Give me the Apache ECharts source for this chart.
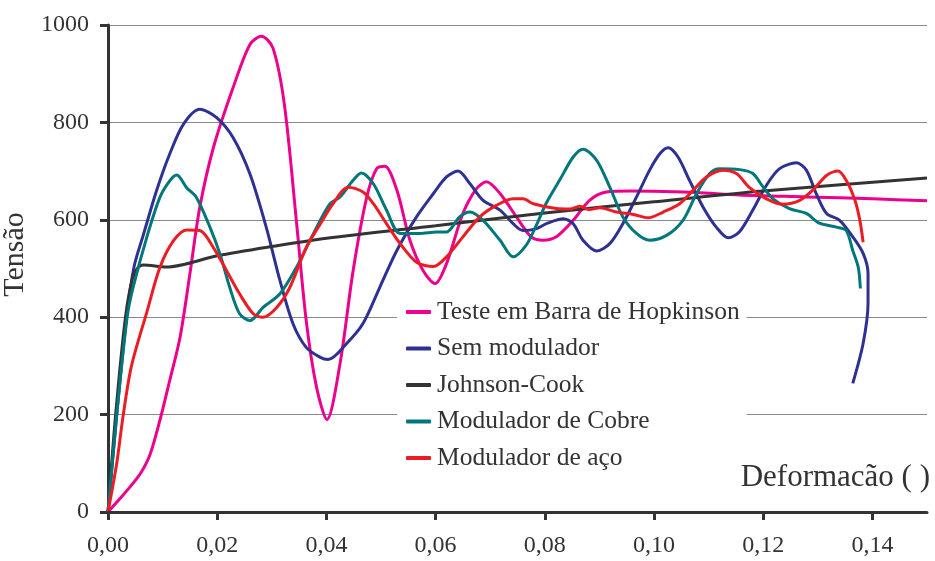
<!DOCTYPE html>
<html>
<head>
<meta charset="utf-8">
<script src="https://cdn.jsdelivr.net/npm/echarts@6/dist/echarts.min.js"></script>
<style>html,body{margin:0;padding:0;background:#fff}#c{width:935px;height:561px}</style>
</head>
<body>
<div id="c"></div>
<script>
const seriesNames = ['Teste em Barra de Hopkinson','Sem modulador','Johnson-Cook','Modulador de Cobre','Modulador de aço'];
const xTicks = [0,0.02,0.04,0.06,0.08,0.10,0.12,0.14];
const yTicks = [0,200,400,600,800,1000];

const hopkinson = [[0,0],[0.002,25],[0.004,51],[0.006,80],[0.0077,118],[0.0095,188],[0.0113,270],[0.0132,359],[0.015,489],[0.0168,625],[0.0193,748],[0.0229,871],[0.026,960],[0.0281,977],[0.0302,953],[0.0323,837],[0.0345,598],[0.0363,393],[0.0382,256],[0.0401,190],[0.0425,305],[0.0449,496],[0.0474,647],[0.0492,705],[0.0507,710],[0.0529,661],[0.0553,558],[0.0577,496],[0.0599,469],[0.062,510],[0.065,613],[0.0675,664],[0.0693,678],[0.0718,654],[0.0748,606],[0.0775,565],[0.0797,558],[0.0821,565],[0.0852,599],[0.0882,640],[0.0913,657],[0.0956,659],[0.1017,658],[0.1078,656],[0.1157,651],[0.1279,647],[0.1401,643],[0.15,639]];

const semModulador = [[0,0],[0.0016,200],[0.0034,400],[0.0048,505],[0.0065,570],[0.0089,660],[0.0113,735],[0.0138,796],[0.0168,827],[0.0199,810],[0.0229,769],[0.026,694],[0.029,584],[0.0315,475],[0.0339,386],[0.0363,338],[0.0388,318],[0.0403,313],[0.0437,346],[0.0467,387],[0.0498,462],[0.0529,537],[0.0565,606],[0.0596,654],[0.062,688],[0.0641,700],[0.0663,674],[0.0687,640],[0.0718,620],[0.0742,592],[0.076,578],[0.0785,582],[0.0803,592],[0.0834,602],[0.0852,592],[0.087,558],[0.0895,536],[0.0919,551],[0.0943,592],[0.0968,647],[0.0992,702],[0.1011,736],[0.1026,748],[0.1044,729],[0.1065,681],[0.109,626],[0.1114,585],[0.1136,563],[0.1157,576],[0.1181,620],[0.1206,671],[0.123,705],[0.1261,717],[0.1279,702],[0.1297,654],[0.1316,613],[0.134,599],[0.1364,565],[0.1383,531],[0.1392,490],[0.1392,428],[0.1383,346],[0.1364,264]];

const johnsonCook = [[0,0],[0.0014,200],[0.0032,400],[0.0045,480],[0.0055,502],[0.0065,507],[0.0107,503],[0.02,526],[0.03,545],[0.04,562],[0.06,588],[0.08,614],[0.10,637],[0.12,659],[0.15,686]];

const moduladorCobre = [[0,0],[0.0016,200],[0.0035,400],[0.0046,461],[0.0071,564],[0.0095,646],[0.0113,680],[0.0126,692],[0.0144,666],[0.0162,646],[0.0187,584],[0.0205,530],[0.0223,461],[0.0241,407],[0.026,393],[0.0284,420],[0.0315,448],[0.0345,502],[0.0376,571],[0.0406,632],[0.0425,647],[0.0449,681],[0.0464,696],[0.0486,674],[0.051,620],[0.0535,572],[0.0571,572],[0.0602,575],[0.062,575],[0.0644,606],[0.0663,616],[0.0687,599],[0.0718,558],[0.0742,524],[0.0766,548],[0.0785,590],[0.0803,635],[0.0827,681],[0.0852,729],[0.087,745],[0.0895,722],[0.0919,667],[0.0943,606],[0.0968,572],[0.0992,558],[0.1023,568],[0.1053,599],[0.1078,654],[0.1102,695],[0.112,705],[0.1157,703],[0.1181,695],[0.12,667],[0.1218,643],[0.1248,623],[0.1279,613],[0.1303,593],[0.1334,585],[0.1352,578],[0.1364,537],[0.1374,503],[0.1378,459]];

const moduladorAco = [[0,0],[0.0016,100],[0.0028,200],[0.0043,300],[0.0071,410],[0.0095,502],[0.012,557],[0.0144,579],[0.0168,578],[0.0193,543],[0.0217,496],[0.0241,448],[0.0266,407],[0.0284,400],[0.0309,420],[0.0333,461],[0.0363,543],[0.0388,590],[0.0412,633],[0.044,667],[0.0467,657],[0.0486,633],[0.051,592],[0.0535,551],[0.0565,513],[0.0596,504],[0.062,524],[0.065,565],[0.0681,606],[0.0712,630],[0.0742,643],[0.076,643],[0.0779,633],[0.0821,623],[0.0846,622],[0.0864,628],[0.0882,621],[0.0901,625],[0.0931,616],[0.0962,611],[0.0989,604],[0.1017,616],[0.1047,633],[0.1072,661],[0.1096,688],[0.1126,702],[0.1151,695],[0.1175,666],[0.1206,643],[0.1236,632],[0.1267,640],[0.1291,661],[0.1316,691],[0.1337,700],[0.1352,681],[0.1368,640],[0.1377,599],[0.1383,554]];

const allData = [hopkinson, semModulador, johnsonCook, moduladorCobre, moduladorAco];
const colors = ['#EC008C','#2E3192','#333333','#00777B','#ED1C24'];
const FONT = '"Liberation Serif", "Times New Roman", serif';

const chart = echarts.init(document.getElementById('c'), null, {renderer:'canvas'});
chart.setOption({
  animation: false,
  backgroundColor: '#fff',
  color: colors,
  grid: {left:108, right:8, top:25, bottom:49, containLabel:false, outerBoundsMode:'none'},
  legend: {
    orient: 'vertical',
    left: 397, top: 291,
    padding: [8, 7, 8, 9],
    backgroundColor: '#fff',
    itemWidth: 25, itemHeight: 4, itemGap: 10.5,
    icon: 'roundRect',
    data: seriesNames,
    z: 3,
    textStyle: {fontFamily: FONT, fontSize: 25.5, color: '#333', lineHeight: 26, padding:[0,0,0,1]}
  },
  xAxis: {
    type: 'value', min: 0, max: 0.15,
    z: 8,
    name: 'Deformacão ( )', nameLocation: 'end', nameGap: 3,
    nameTextStyle: {fontFamily: FONT, fontSize: 31, color: '#333', align: 'right', verticalAlign: 'bottom', padding: [0,0,19,0]},
    axisLine: {lineStyle: {color: '#333', width: 3}},
    axisTick: {show: true, length: 8, lineStyle: {color:'#333', width: 3}, customValues: xTicks},
    axisLabel: {customValues: xTicks, margin: 22, fontFamily: FONT, fontSize: 24, color: '#333',
      formatter: v => v.toFixed(2).replace('.', ',')},
    splitLine: {show: false}
  },
  yAxis: {
    type: 'value', min: 0, max: 1000, interval: 200,
    name: 'Tensão', nameLocation: 'middle', nameGap: 71, nameRotate: 90,
    nameTextStyle: {fontFamily: FONT, fontSize: 30, color: '#333', padding: [0,0,0,28]},
    axisLine: {show: true, lineStyle: {color: '#333', width: 3}},
    axisTick: {show: true, length: 8, lineStyle: {color:'#333', width: 3}},
    axisLabel: {margin: 19, fontFamily: FONT, fontSize: 24, color: '#333', customValues: yTicks,
      formatter: v => String(v)},
    splitLine: {show: true, lineStyle: {color: '#8a8a8a', width: 1}}
  },
  series: seriesNames.map((n, i) => ({
    name: n, type: 'line', data: allData[i],
    showSymbol: false, symbol: 'none',
    smooth: 0.3,
    lineStyle: {width: 3, color: colors[i]},
    itemStyle: {color: colors[i]},
    z: 2 + i
  }))
});
</script>
</body>
</html>
